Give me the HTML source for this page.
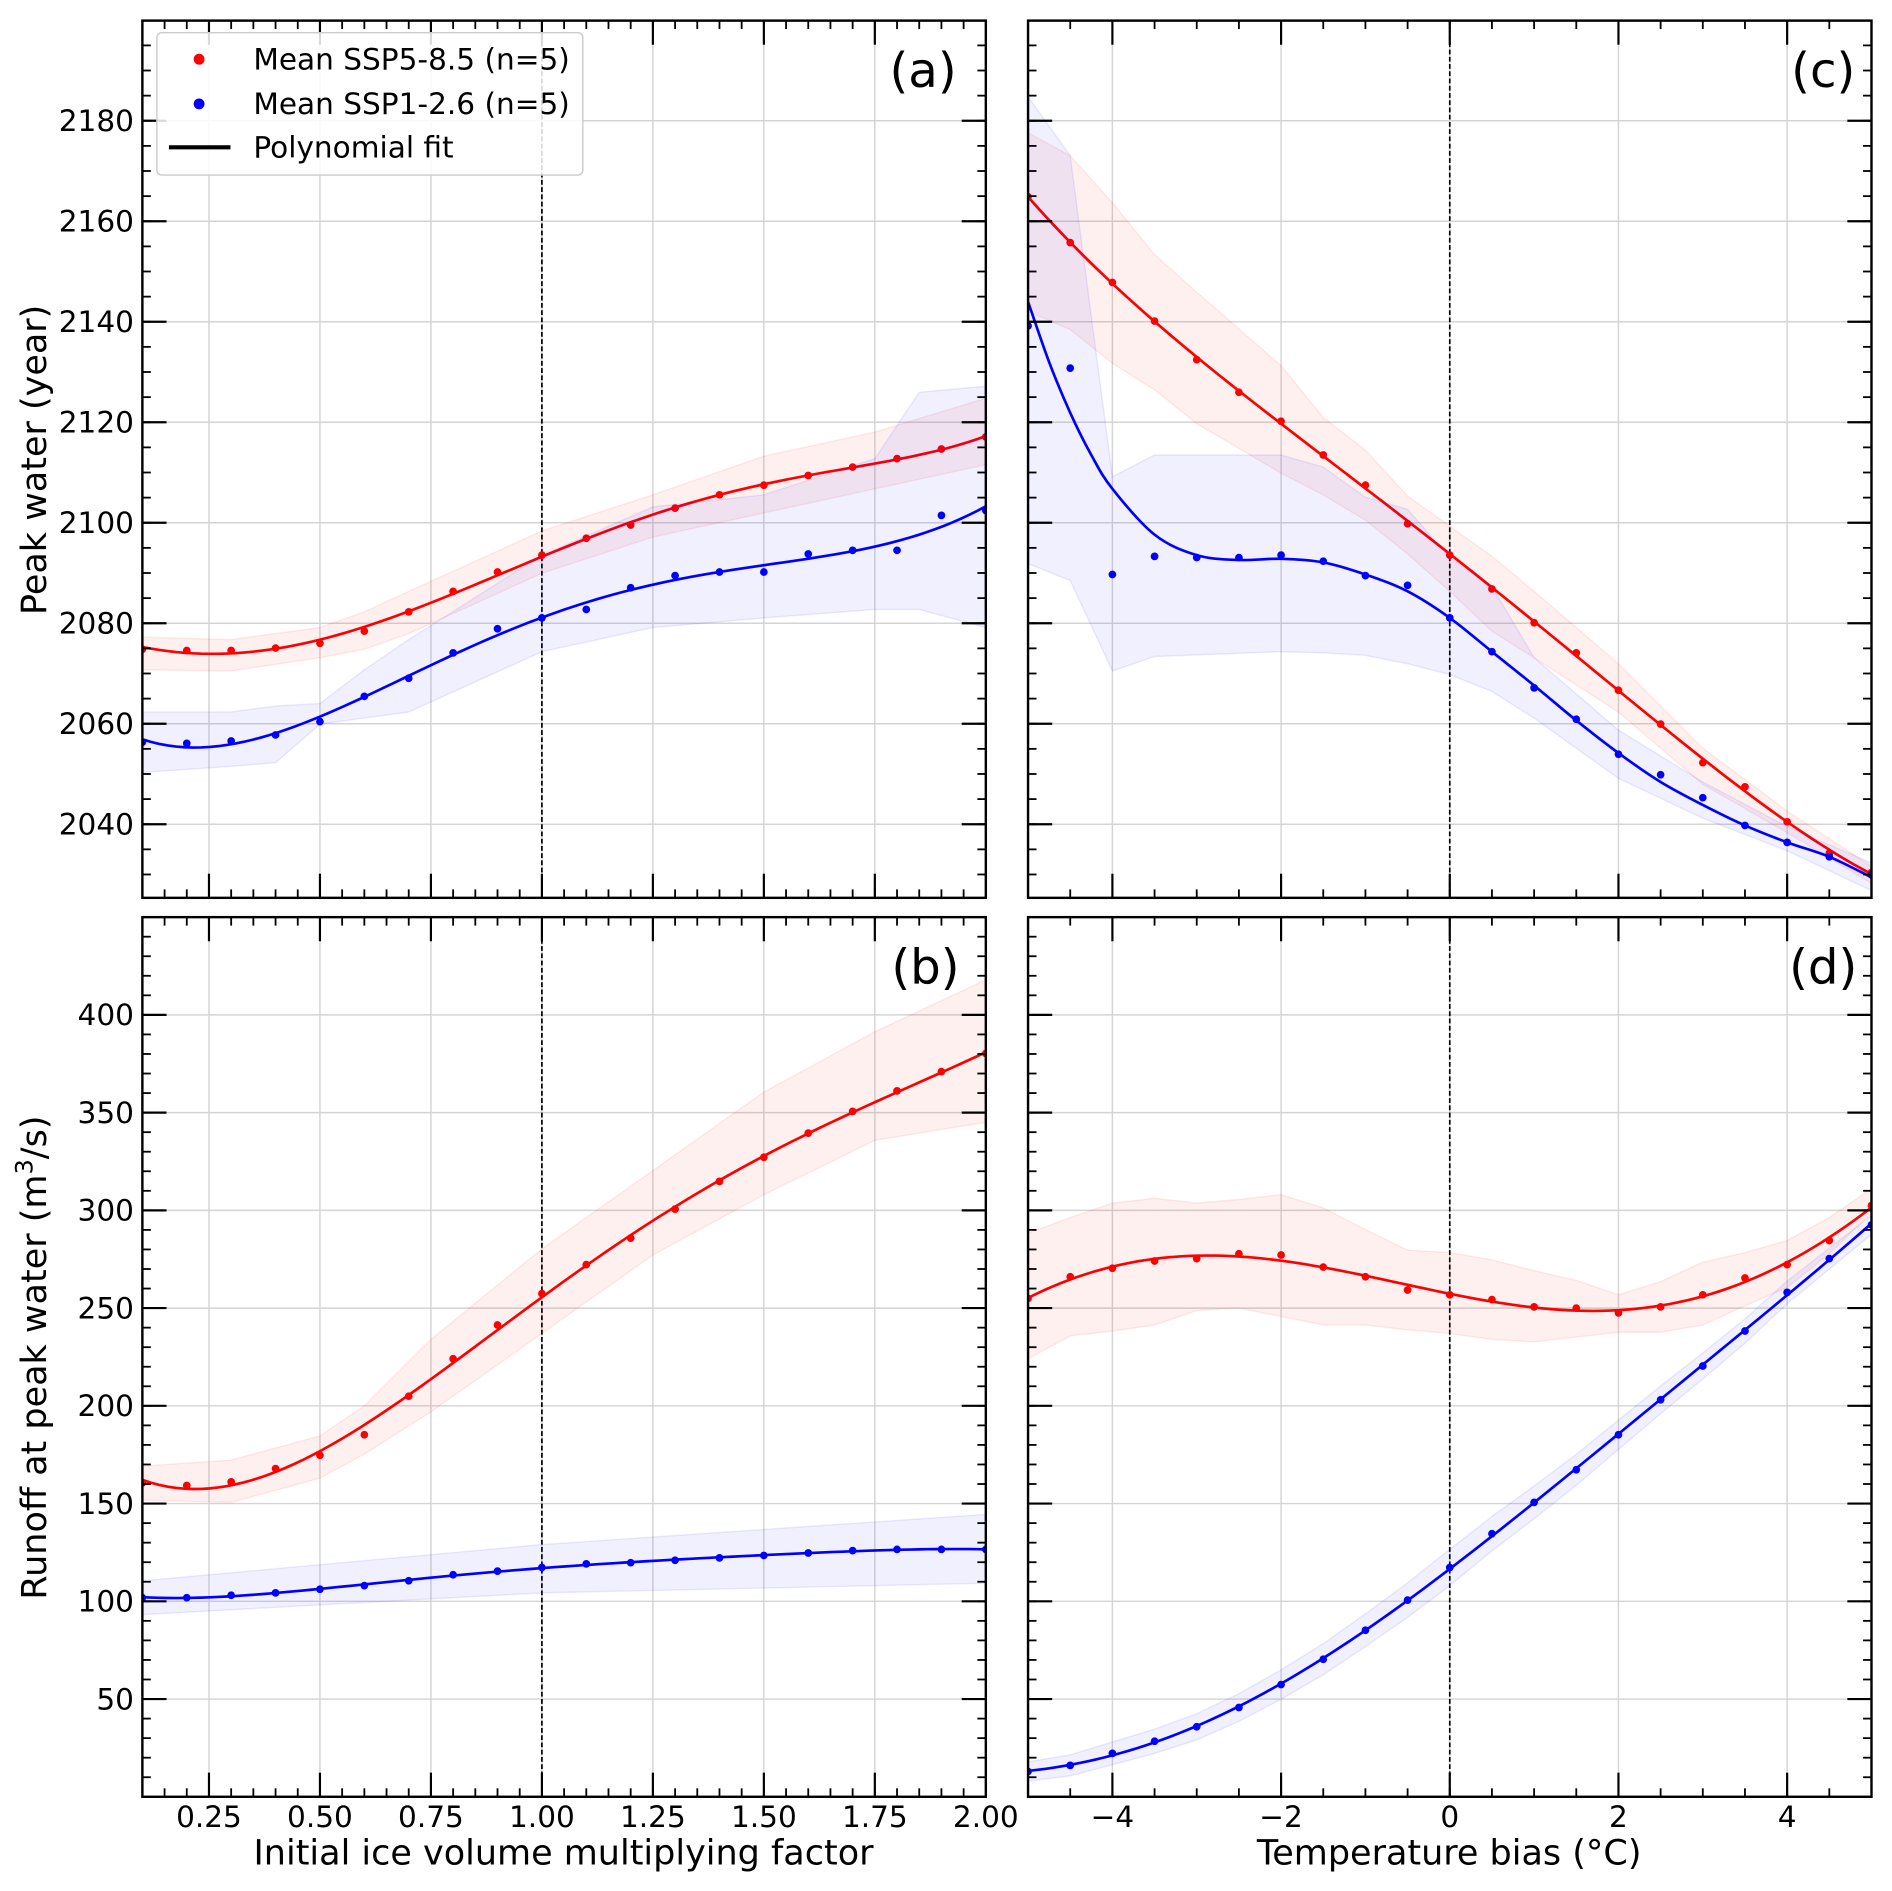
<!DOCTYPE html>
<html><head><meta charset="utf-8"><style>html,body{margin:0;padding:0;background:#fff}svg{display:block}</style></head>
<body>
<svg id="s" xmlns="http://www.w3.org/2000/svg" width="1892" height="1891" viewBox="0 0 1568 1567" font-family="'DejaVu Sans','Liberation Sans',sans-serif"></svg>
<script>
const S=document.getElementById('s');let h='';
const P={a:{x0:118,x1:817,y0:17,y1:744},b:{x0:118,x1:817,y0:760,y1:1489},c:{x0:852,x1:1551,y0:17,y1:744},d:{x0:852,x1:1551,y0:760,y1:1489}};
const XL=x=>118+(x-0.1)/1.9*699, XR=x=>852+(x+5)/10*699;
const YT=v=>100+(2180-v)*(583/140), YB=v=>1489-v*1.62;
function rng(a,b,s){const r=[];for(let v=a;v<=b+1e-9;v+=s)r.push(+v.toFixed(4));return r;}
function axes(p,fx,xmaj,xmin,fy,ymaj,ymin){
 const q=P[p];
 h+=`<g clip-path="url(#c${p})">`;
 xmaj.forEach(v=>{const x=fx(v);h+=`<line x1="${x}" x2="${x}" y1="${q.y0}" y2="${q.y1}" stroke="#d4d4d4" stroke-width="1.2"/>`});
 ymaj.forEach(v=>{const y=fy(v);h+=`<line x1="${q.x0}" x2="${q.x1}" y1="${y}" y2="${y}" stroke="#d4d4d4" stroke-width="1.2"/>`});
 h+='</g>';
}
function frame(p,fx,xmaj,xmin,fy,ymaj,ymin,xlab,ylab){
 const q=P[p];
 h+=`<rect x="${q.x0}" y="${q.y0}" width="${q.x1-q.x0}" height="${q.y1-q.y0}" fill="none" stroke="#000" stroke-width="2"/>`;
 const t=(x1,y1,x2,y2,w)=>h+=`<line x1="${x1}" y1="${y1}" x2="${x2}" y2="${y2}" stroke="#000" stroke-width="${w}"/>`;
 xmin.forEach(v=>{const x=fx(v);if(x<q.x0+1||x>q.x1-1)return;t(x,q.y1,x,q.y1-7,1.5);t(x,q.y0,x,q.y0+7,1.5)});
 xmaj.forEach(v=>{const x=fx(v);if(x<q.x0+1||x>q.x1-1)return;t(x,q.y1,x,q.y1-20,1.8);t(x,q.y0,x,q.y0+20,1.8)});
 ymin.forEach(v=>{const y=fy(v);if(y<q.y0+1||y>q.y1-1)return;t(q.x0,y,q.x0+7,y,1.5);t(q.x1,y,q.x1-7,y,1.5)});
 ymaj.forEach(v=>{const y=fy(v);if(y<q.y0+1||y>q.y1-1)return;t(q.x0,y,q.x0+20,y,1.8);t(q.x1,y,q.x1-20,y,1.8)});
 if(xlab)xmaj.forEach(v=>{const x=fx(v);h+=`<text x="${x}" y="${q.y1+25}" font-size="24.5" text-anchor="middle">${xlab(v)}</text>`});
 if(ylab)ymaj.forEach(v=>{const y=fy(v);if(y<q.y0||y>q.y1)return;h+=`<text x="${q.x0-7}" y="${y+8.5}" font-size="24.5" text-anchor="end">${ylab(v)}</text>`});
}
function cr(pts){let d=`M${pts[0][0]},${pts[0][1]}`;for(let i=0;i<pts.length-1;i++){const p0=pts[i-1]||pts[i],p1=pts[i],p2=pts[i+1],p3=pts[i+2]||p2;d+=`C${p1[0]+(p2[0]-p0[0])/6},${p1[1]+(p2[1]-p0[1])/6} ${p2[0]-(p3[0]-p1[0])/6},${p2[1]-(p3[1]-p1[1])/6} ${p2[0]},${p2[1]}`;}return d;}
function polyfit(xs,ys,deg){const n=deg+1;const A=[...Array(n)].map(()=>Array(n+1).fill(0));const m=(xs[0]+xs[xs.length-1])/2,s=(xs[xs.length-1]-xs[0])/2;
 xs.forEach((x,k)=>{const u=(x-m)/s;const pw=[];for(let i=0;i<2*n;i++)pw.push(Math.pow(u,i));for(let i=0;i<n;i++){for(let j=0;j<n;j++)A[i][j]+=pw[i+j];A[i][n]+=pw[i]*ys[k];}});
 for(let i=0;i<n;i++){let mx=i;for(let r=i+1;r<n;r++)if(Math.abs(A[r][i])>Math.abs(A[mx][i]))mx=r;[A[i],A[mx]]=[A[mx],A[i]];for(let r=0;r<n;r++)if(r!==i){const f=A[r][i]/A[i][i];for(let c=i;c<=n;c++)A[r][c]-=f*A[i][c];}}
 const co=A.map((r,i)=>r[n]/r[i]);return x=>{const u=(x-m)/s;let v=0;for(let i=n-1;i>=0;i--)v=v*u+co[i];return v;};}
function series(p,fx,xs,ys,col,deg,band,fitpts){
 const [bx,bu,bl]=band;
 let pts=bx.map((x,i)=>[fx(x),bu[i]]).concat(bx.map((x,i)=>[fx(x),bl[i]]).reverse());
 h+=`<g clip-path="url(#c${p})"><polygon points="${pts.map(q=>q.join(',')).join(' ')}" fill="${col}" fill-opacity="0.06" stroke="${col}" stroke-opacity="0.08" stroke-width="1.2"/>`;
 let fp;
 if(fitpts)fp=fitpts.map(([x,y])=>[fx(x),y]);
 else{const f=polyfit(xs,ys,deg);fp=[];const a=xs[0],b=xs[xs.length-1];for(let i=0;i<=100;i++){const x=a+(b-a)*i/100;fp.push([fx(x),f(x)]);}}
 h+=`<path d="${fitpts?cr(fp):'M'+fp.map(q=>q.join(',')).join('L')}" fill="none" stroke="${col}" stroke-width="2.2"/>`;
 xs.forEach((x,i)=>h+=`<circle cx="${fx(x)}" cy="${ys[i]}" r="3.2" fill="${col}"/>`);
 h+='</g>';
}
let defs='<defs>';for(const k in P){const q=P[k];defs+=`<clipPath id="c${k}"><rect x="${q.x0}" y="${q.y0}" width="${q.x1-q.x0}" height="${q.y1-q.y0}"/></clipPath>`;}defs+='</defs>';h+=defs;
const xa=rng(0.1,2.0,0.1), xc=rng(-5,5,0.5);
const xmajL=rng(0.25,2.0,0.25), xminL=rng(0.1,2.0,0.05), xmajR=rng(-4,4,2), xminR=rng(-5,5,0.5);
const ymajT=rng(2040,2180,20), yminT=rng(2025,2200,5), ymajB=rng(50,400,50), yminB=rng(0,450,10);
axes('a',XL,xmajL,xminL,YT,ymajT,yminT);axes('b',XL,xmajL,xminL,YB,ymajB,yminB);axes('c',XR,xmajR,xminR,YT,ymajT,yminT);axes('d',XR,xmajR,xminR,YB,ymajB,yminB);
[['a',XL(1)],['b',XL(1)],['c',XR(0)],['d',XR(0)]].forEach(([p,x])=>{const q=P[p];h+=`<line x1="${x}" x2="${x}" y1="${q.y0}" y2="${q.y1}" stroke="#000" stroke-width="1.4" stroke-dasharray="4,2"/>`});
series('a',XL,xa,[538,539,539,537,533,523,507,490,474,460,446,435,421,410,402,394,387,380,372,362],'#ff0000',5,
 [[0.1,0.3,0.5,0.6,0.7,1.0,1.25,1.5,1.75,2.0],[528,530,520,507,490,440,410,378,358,330],[555,556,545,538,525,475,445,425,405,385]]);
series('a',XL,xa,[615,616,614,609,598,577,562,541,521,512,505,487,477,474,474,459,456,456,427,423],'#0000ff',5,
 [[0.1,0.3,0.4,0.5,0.6,0.7,1.0,1.25,1.5,1.75,1.85,2.0],[590,590,585,583,555,530,460,420,410,380,325,320],[640,635,632,600,595,590,540,520,512,505,505,520]]);
series('c',XR,xc,[163,201,234,266,298,325,349,377,402,434,460,488,516,541,572,600,632,652,681,707,723],'#ff0000',5,
 [[-5,-4.5,-4,-3.5,-3,-2,-1.5,-1,-0.5,0,0.5,1,2,3,4,5],[110,129,168,211,242,303,346,373,411,436,461,490,550,620,672,718],[258,273,301,323,351,392,410,431,459,490,523,545,590,650,690,732]]);
series('c',XR,xc,[270,305,476,461,462,462,460,465,477,485,512,540,570,596,625,642,661,684,698,710,725],'#0000ff',5,
 [[-5,-4.5,-4,-3.5,-2,-1.5,-1,-0.5,0,0.5,1,2,3,4,5],[80,129,395,377,377,387,412,422,462,486,545,605,648,685,715],[467,481,556,544,540,541,543,550,559,573,595,645,678,705,738]],
 [[-5,250],[-4.75,300],[-4.5,342],[-4.25,377],[-4,405],[-3.5,443],[-3,460],[-2.5,464],[-2,463],[-1.5,466],[-1,476],[-0.5,490],[0,512],[0.5,540],[1,568],[1.5,597],[2,624],[2.5,648],[3,667],[3.5,684],[4,698],[4.5,710],[5,727]]);
series('b',XL,xa,[1229,1231,1228,1217,1206,1189,1157,1126,1098,1072,1048,1026,1002,979,959,939,921,904,888,873],'#ff0000',5,
 [[0.1,0.3,0.5,0.6,0.75,1.0,1.25,1.5,1.75,2.0],[1215,1210,1190,1165,1110,1035,970,905,855,812],[1243,1245,1225,1205,1170,1105,1040,990,945,930]]);
series('b',XL,xa,[1324,1324,1322,1320,1317,1314,1310,1305,1302,1299,1296,1295,1293,1291,1289,1287,1285,1284,1284,1284],'#0000ff',5,
 [[0.1,1.0,2.0],[1310,1280,1255],[1338,1320,1312]]);
series('d',XR,xc,[1076,1058,1051,1045,1043,1039,1040,1050,1058,1069,1073,1077,1083,1084,1088,1083,1073,1059,1048,1028,999],'#ff0000',5,
 [xc,[1022,1009,997,993,997,994,990,1001,1019,1036,1038,1044,1053,1061,1073,1062,1046,1038,1028,1009,985],[1126,1107,1103,1098,1086,1084,1091,1098,1098,1102,1105,1110,1112,1108,1104,1104,1098,1082,1067,1039,1005]]);
const bd=[1468,1463,1453,1443,1431,1415,1396,1375,1351,1326,1299,1271,1245,1218,1189,1160,1132,1103,1071,1043,1015];
const wd=xc.map(x=>8+7*(1-Math.abs(x)/5));
series('d',XR,xc,bd,'#0000ff',5,[xc,bd.map((y,i)=>y-wd[i]),bd.map((y,i)=>y+wd[i])]);
const fl=v=>v.toFixed(2), fr=v=>(v<0?'−'+(-v):''+v);
frame('a',XL,xmajL,xminL,YT,ymajT,yminT,null,v=>v);
frame('b',XL,xmajL,xminL,YB,ymajB,yminB,fl,v=>v);
frame('c',XR,xmajR,xminR,YT,ymajT,yminT,null,null);
frame('d',XR,xmajR,xminR,YB,ymajB,yminB,fr,null);
h+=`<text x="467" y="1545" font-size="29" text-anchor="middle">Initial ice volume multiplying factor</text>`;
h+=`<text x="1201" y="1545" font-size="29" text-anchor="middle">Temperature bias (°C)</text>`;
h+=`<text transform="translate(38,381) rotate(-90)" font-size="29" text-anchor="middle">Peak water (year)</text>`;
h+=`<text transform="translate(38,1125) rotate(-90)" font-size="29" text-anchor="middle">Runoff at peak water (m<tspan dy="-11" font-size="20">3</tspan><tspan dy="11">/s)</tspan></text>`;
[['(a)',765,72],['(c)',1511,72],['(b)',767,815],['(d)',1511,815]].forEach(([t,x,y])=>h+=`<text x="${x}" y="${y}" font-size="40" text-anchor="middle">${t}</text>`);
h+=`<rect x="130" y="27" width="353" height="118" rx="4" fill="#fff" fill-opacity="0.85" stroke="#ccc" stroke-width="1.2"/>`;
h+=`<circle cx="165" cy="49" r="4.5" fill="#ff0000"/><circle cx="165" cy="86" r="4.5" fill="#0000ff"/><line x1="140" x2="191" y1="122" y2="122" stroke="#000" stroke-width="3.5"/>`;
h+=`<text x="210" y="57.5" font-size="24.5">Mean SSP5-8.5 (n=5)</text><text x="210" y="94.5" font-size="24.5">Mean SSP1-2.6 (n=5)</text><text x="210" y="130.5" font-size="24.5">Polynomial fit</text>`;
S.innerHTML=h;
</script>
</body></html>
